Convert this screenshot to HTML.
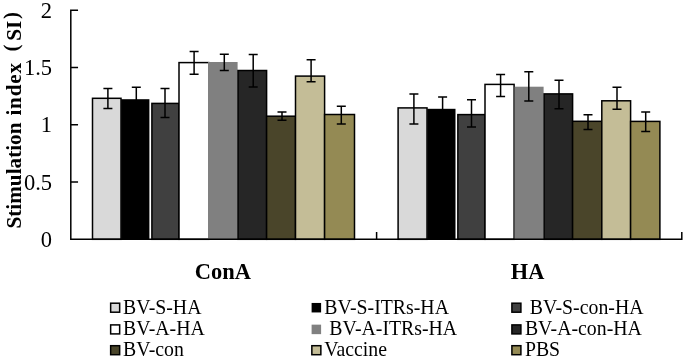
<!DOCTYPE html>
<html><head><meta charset="utf-8"><style>
html,body{margin:0;padding:0;background:#fff;}
body{width:685px;height:360px;overflow:hidden;}
svg{display:block;will-change:transform;}
.tk{font-family:"Liberation Serif",serif;font-size:22.5px;fill:#000;}
.yt{font-family:"Liberation Serif",serif;font-size:21.2px;font-weight:bold;fill:#000;}
.xl{font-family:"Liberation Serif",serif;font-size:23.3px;font-weight:bold;fill:#000;}
.lg{font-family:"Liberation Serif",serif;font-size:20.8px;fill:#000;}
</style></head><body>
<svg width="685" height="360" viewBox="0 0 685 360">
<rect width="685" height="360" fill="#fff"/>
<rect x="92.50" y="98.30" width="28.50" height="141.00" fill="#D9D9D9" stroke="#000" stroke-width="1.5"/>
<rect x="121.10" y="99.20" width="28.30" height="140.10" fill="#000000"/>
<rect x="151.90" y="103.40" width="27.10" height="135.90" fill="#404040" stroke="#000" stroke-width="1.5"/>
<rect x="179.00" y="62.60" width="29.80" height="176.70" fill="#FFFFFF" stroke="#000" stroke-width="1.5"/>
<rect x="208.00" y="62.00" width="29.60" height="177.30" fill="#808080"/>
<rect x="238.00" y="70.50" width="28.60" height="168.80" fill="#262626" stroke="#000" stroke-width="1.5"/>
<rect x="266.60" y="116.20" width="28.90" height="123.10" fill="#4A452A" stroke="#000" stroke-width="1.5"/>
<rect x="295.50" y="76.10" width="29.10" height="163.20" fill="#C4BD97" stroke="#000" stroke-width="1.5"/>
<rect x="324.60" y="114.50" width="29.90" height="124.80" fill="#948A54" stroke="#000" stroke-width="1.5"/>
<rect x="398.10" y="107.90" width="28.90" height="131.40" fill="#D9D9D9" stroke="#000" stroke-width="1.5"/>
<rect x="427.20" y="108.80" width="28.30" height="130.50" fill="#000000"/>
<rect x="457.85" y="114.60" width="27.15" height="124.70" fill="#404040" stroke="#000" stroke-width="1.5"/>
<rect x="485.00" y="84.40" width="29.10" height="154.90" fill="#FFFFFF" stroke="#000" stroke-width="1.5"/>
<rect x="514.60" y="86.70" width="29.00" height="152.60" fill="#808080"/>
<rect x="544.10" y="93.90" width="28.50" height="145.40" fill="#262626" stroke="#000" stroke-width="1.5"/>
<rect x="572.60" y="121.30" width="29.20" height="118.00" fill="#4A452A" stroke="#000" stroke-width="1.5"/>
<rect x="601.80" y="100.80" width="28.80" height="138.50" fill="#C4BD97" stroke="#000" stroke-width="1.5"/>
<rect x="630.60" y="121.40" width="29.30" height="117.90" fill="#948A54" stroke="#000" stroke-width="1.5"/>
<path d="M103.40 88.40H112.40M107.90 88.40V108.50M103.40 108.50H112.40" stroke="#000" stroke-width="1.5" fill="none"/>
<path d="M131.80 87.20H140.80M136.30 87.20V111.60M131.80 111.60H140.80" stroke="#000" stroke-width="1.5" fill="none"/>
<path d="M160.50 88.60H169.50M165.00 88.60V117.40M160.50 117.40H169.50" stroke="#000" stroke-width="1.5" fill="none"/>
<path d="M189.60 51.40H198.60M194.10 51.40V74.20M189.60 74.20H198.60" stroke="#000" stroke-width="1.5" fill="none"/>
<path d="M219.80 54.20H228.80M224.30 54.20V70.60M219.80 70.60H228.80" stroke="#000" stroke-width="1.5" fill="none"/>
<path d="M248.70 54.50H257.70M253.20 54.50V87.00M248.70 87.00H257.70" stroke="#000" stroke-width="1.5" fill="none"/>
<path d="M277.50 111.90H286.50M282.00 111.90V120.20M277.50 120.20H286.50" stroke="#000" stroke-width="1.5" fill="none"/>
<path d="M306.60 59.70H315.60M311.10 59.70V81.70M306.60 81.70H315.60" stroke="#000" stroke-width="1.5" fill="none"/>
<path d="M336.80 106.30H345.80M341.30 106.30V124.00M336.80 124.00H345.80" stroke="#000" stroke-width="1.5" fill="none"/>
<path d="M409.40 94.00H418.40M413.90 94.00V124.10M409.40 124.10H418.40" stroke="#000" stroke-width="1.5" fill="none"/>
<path d="M438.10 96.90H447.10M442.60 96.90V121.10M438.10 121.10H447.10" stroke="#000" stroke-width="1.5" fill="none"/>
<path d="M467.00 99.80H476.00M471.50 99.80V127.10M467.00 127.10H476.00" stroke="#000" stroke-width="1.5" fill="none"/>
<path d="M496.10 74.60H505.10M500.60 74.60V96.60M496.10 96.60H505.10" stroke="#000" stroke-width="1.5" fill="none"/>
<path d="M524.30 71.70H533.30M528.80 71.70V101.00M524.30 101.00H533.30" stroke="#000" stroke-width="1.5" fill="none"/>
<path d="M554.50 80.30H563.50M559.00 80.30V108.80M554.50 108.80H563.50" stroke="#000" stroke-width="1.5" fill="none"/>
<path d="M583.50 114.70H592.50M588.00 114.70V129.50M583.50 129.50H592.50" stroke="#000" stroke-width="1.5" fill="none"/>
<path d="M612.50 87.20H621.50M617.00 87.20V109.20M612.50 109.20H621.50" stroke="#000" stroke-width="1.5" fill="none"/>
<path d="M641.20 112.00H650.20M645.70 112.00V131.40M641.20 131.40H650.20" stroke="#000" stroke-width="1.5" fill="none"/>
<path d="M70.80 10.20V239.30H681.80V232.80M376.60 239.30v-6.5M70.80 182.03h6.5M70.80 124.75h6.5M70.80 67.47h6.5M70.80 10.20h6.5" stroke="#000" stroke-width="1.5" fill="none" stroke-linecap="square"/>
<text x="52" y="246.90" text-anchor="end" class="tk">0</text>
<text x="52" y="189.62" text-anchor="end" class="tk">0.5</text>
<text x="52" y="132.35" text-anchor="end" class="tk">1</text>
<text x="52" y="75.07" text-anchor="end" class="tk">1.5</text>
<text x="52" y="17.80" text-anchor="end" class="tk">2</text>
<text transform="translate(20.6,228.5) rotate(-90)" class="yt">Stimulation</text>
<text transform="translate(20.6,115.6) rotate(-90)" class="yt" letter-spacing="0.8">index</text>
<text transform="translate(17.6,48) rotate(-90)" class="yt" text-anchor="middle">(</text>
<text transform="translate(20.6,40.7) rotate(-90)" class="yt">SI</text>
<text transform="translate(17.6,15.4) rotate(-90)" class="yt" text-anchor="middle">)</text>
<text transform="translate(222.8,278.6) scale(0.965,1)" text-anchor="middle" class="xl">ConA</text>
<text transform="translate(527.6,278.6) scale(0.96,1)" text-anchor="middle" class="xl">HA</text>
<rect x="110.65" y="303.20" width="9" height="9" fill="#D9D9D9" stroke="#000" stroke-width="1.5"/>
<text transform="translate(123.00,314.10) scale(0.952,1)" class="lg">BV-S-HA</text>
<rect x="311.60" y="302.95" width="9.5" height="9.5" fill="#000000"/>
<text transform="translate(324.30,314.10) scale(0.952,1)" class="lg">BV-S-ITRs-HA</text>
<rect x="511.90" y="303.20" width="9" height="9" fill="#404040" stroke="#000" stroke-width="1.5"/>
<text transform="translate(524.90,314.10) scale(0.952,1)" class="lg">&#160;BV-S-con-HA</text>
<rect x="110.65" y="324.90" width="9" height="9" fill="#FFFFFF" stroke="#000" stroke-width="1.5"/>
<text transform="translate(123.00,335.10) scale(0.952,1)" class="lg">BV-A-HA</text>
<rect x="311.60" y="324.65" width="9.5" height="9.5" fill="#808080"/>
<text transform="translate(324.30,335.10) scale(0.952,1)" class="lg">&#160;BV-A-ITRs-HA</text>
<rect x="511.90" y="324.90" width="9" height="9" fill="#262626" stroke="#000" stroke-width="1.5"/>
<text transform="translate(524.90,335.10) scale(0.952,1)" class="lg">BV-A-con-HA</text>
<rect x="110.65" y="345.70" width="9" height="9" fill="#4A452A" stroke="#000" stroke-width="1.5"/>
<text transform="translate(123.00,356.20) scale(0.952,1)" class="lg">BV-con</text>
<rect x="311.85" y="345.70" width="9" height="9" fill="#C4BD97" stroke="#000" stroke-width="1.5"/>
<text transform="translate(324.30,356.20) scale(0.952,1)" class="lg">Vaccine</text>
<rect x="511.90" y="345.70" width="9" height="9" fill="#948A54" stroke="#000" stroke-width="1.5"/>
<text transform="translate(524.90,356.20) scale(0.952,1)" class="lg">PBS</text>
</svg>
</body></html>
